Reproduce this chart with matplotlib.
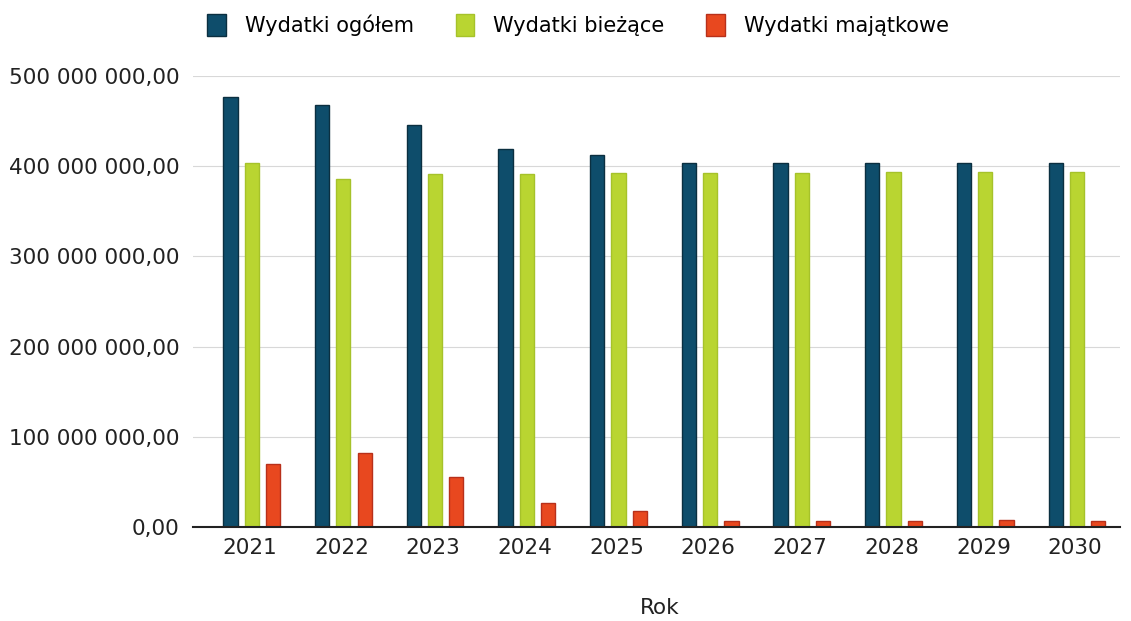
import matplotlib
matplotlib.use("Agg")
import matplotlib.pyplot as plt
import numpy as np
from matplotlib.ticker import FuncFormatter

years = ["2021", "2022", "2023", "2024", "2025", "2026", "2027", "2028", "2029", "2030"]
wydatki_ogolem = [477e6, 468e6, 446e6, 419e6, 412e6, 403e6, 403e6, 403e6, 403e6, 403e6]
wydatki_biezace = [403e6, 386e6, 391e6, 391e6, 393e6, 393e6, 393e6, 394e6, 394e6, 394e6]
wydatki_majatkowe = [70e6, 82e6, 55e6, 27e6, 18e6, 7e6, 7e6, 7e6, 8e6, 7e6]
series_names = ["Wydatki ogółem", "Wydatki bieżące", "Wydatki majątkowe"]

plt.rcParams['font.family'] = ['DejaVu Sans']

fig = plt.figure(figsize=(11.31, 6.21), dpi=100)
ax = fig.add_axes([193/1131, 1 - 527/621, (1120 - 193)/1131, (527 - 76)/621])

x = np.arange(len(years))
w = 0.155
off = 0.232
colors = ["#0e4d6b", "#b9d531", "#e8481f"]
edges = ["#0b2f40", "#a6c22a", "#b8301a"]
data = [wydatki_ogolem, wydatki_biezace, wydatki_majatkowe]
for i, (vals, c, e, name) in enumerate(zip(data, colors, edges, series_names)):
    ax.bar(x + (i - 1) * off + 0.02, vals, width=w, color=c, edgecolor=e, linewidth=1.0,
           label=name, zorder=3)

ax.set_ylim(0, 500e6)
ax.set_xlim(-0.62, 9.49)
ax.set_yticks(np.arange(0, 500e6 + 1, 100e6))

def fmt(v, pos):
    s = f"{int(round(v)):,}".replace(",", " ")
    return s + ",00"
ax.yaxis.set_major_formatter(FuncFormatter(fmt))
ax.set_xticks(x)
ax.set_xticklabels(years)
ax.tick_params(axis='both', length=0, labelsize=15.5, colors="#222222")
ax.tick_params(axis='y', pad=9.5)
ax.tick_params(axis='x', pad=8)

ax.grid(axis='y', color="#d8d8d8", linewidth=0.8, zorder=0)
for s in ["top", "right", "left"]:
    ax.spines[s].set_visible(False)
ax.spines["bottom"].set_color("#222222")
ax.spines["bottom"].set_linewidth(1.5)
ax.spines["bottom"].set_zorder(4)

ax.set_xlabel("Rok", fontsize=15.5, color="#222222")
ax.xaxis.set_label_coords((660 - 193) / (1120 - 193), -(598 - 527) / (527 - 76))

leg = fig.legend(loc="center", bbox_to_anchor=(578/1131, 1 - 25/621), ncol=3, frameon=False,
                 fontsize=15, handlelength=0.9, handleheight=1.3, columnspacing=2.0,
                 handletextpad=0.9)

fig.savefig("out.png", dpi=100, facecolor="white")
